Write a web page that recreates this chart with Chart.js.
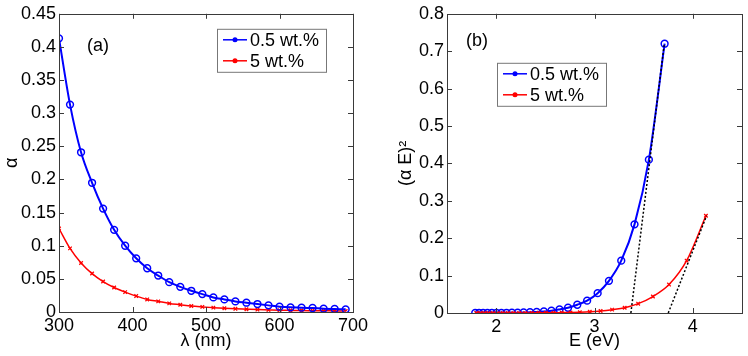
<!DOCTYPE html>
<html>
<head>
<meta charset="utf-8">
<script src="https://cdn.jsdelivr.net/npm/chart.js@4/dist/chart.umd.min.js"></script>
<style>
  body { margin: 0; background: #fff; }
  #wrap { display: flex; width: 748px; height: 356px; }
  canvas { display: block; }
</style>
</head>
<body>
<div id="wrap">
  <canvas id="panelA" width="374" height="356"></canvas>
  <canvas id="panelB" width="374" height="356"></canvas>
</div>
<script>
// ---- data ----
// panel (a): absorption coefficient vs wavelength
var lambdaNm = [300, 315, 330, 345, 360, 375, 390, 405, 420, 435, 450, 465, 480, 495,
                510, 525, 540, 555, 570, 585, 600, 615, 630, 645, 660, 675, 690];
var alphaLow = [0.413, 0.313, 0.241, 0.195, 0.156, 0.124, 0.100, 0.081, 0.066, 0.055, 0.045, 0.038, 0.032, 0.027,
                0.022, 0.019, 0.016, 0.014, 0.012, 0.010, 0.008, 0.007, 0.0066, 0.006, 0.005, 0.0045, 0.004];
var alphaHigh = [0.126, 0.096, 0.074, 0.058, 0.046, 0.037, 0.030, 0.024, 0.019, 0.016, 0.013, 0.011, 0.009, 0.0077,
                 0.0066, 0.0056, 0.0048, 0.0042, 0.0036, 0.0032, 0.0028, 0.0025, 0.0022, 0.0020, 0.0018, 0.0016, 0.0014];

// panel (b): (alpha E)^2 vs photon energy
var energyLow = [3.713, 3.553, 3.407, 3.272, 3.147, 3.032, 2.925, 2.825, 2.731, 2.644, 2.562, 2.485, 2.412,
                 2.344, 2.279, 2.218, 2.160, 2.105, 2.053, 2.003, 1.956, 1.911, 1.867, 1.826, 1.787];
var taucLow = [0.72, 0.41, 0.237, 0.14, 0.086, 0.053, 0.033, 0.022, 0.014, 0.0096, 0.006, 0.004, 0.003,
               0.002, 0.0015, 0.001, 0.0008, 0.0006, 0.0005, 0.0004, 0.0003, 0.0003, 0.0002, 0.0002, 0.0002];
var energyHigh = [4.133, 3.937, 3.758, 3.594, 3.444, 3.307, 3.179, 3.062, 2.952, 2.851, 2.756, 2.667, 2.583, 2.505,
                  2.431, 2.362, 2.296, 2.234, 2.175, 2.120, 2.067, 2.016, 1.968, 1.922, 1.879, 1.837, 1.797];
var taucHigh = [0.26, 0.14, 0.076, 0.044, 0.025, 0.014, 0.009, 0.0055, 0.0033, 0.0021, 0.0014, 0.001, 0.0007, 0.0005,
                0.0004, 0.0003, 0.0002, 0.0002, 0.0001, 0.0001, 0.0001, 0.0001, 0.0001, 0.0, 0.0, 0.0, 0.0];

// dotted tangent lines (band gap extrapolation)
var fitLowE = [3.37, 3.71];
var fitLowY = [0, 0.72];
var fitHighE = [3.75, 4.14];
var fitHighY = [0, 0.26];

// tick labels
var xTicksA = [300, 400, 500, 600, 700];
var yTicksA = [0, 0.05, 0.1, 0.15, 0.2, 0.25, 0.3, 0.35, 0.4, 0.45];
var xTicksB = [2, 3, 4];
var yTicksB = [0, 0.1, 0.2, 0.3, 0.4, 0.5, 0.6, 0.7, 0.8];

var seriesLabels = ['0.5 wt.%', '5 wt.%'];
var BLUE = '#0000ff', RED = '#ff0000';
var FONT = '"Liberation Sans", Arial, sans-serif';

Chart.defaults.font.family = FONT;
Chart.defaults.font.size = 18;
Chart.defaults.color = '#000';

function pts(xs, ys) {
  return xs.map(function(x, i) { return {x: x, y: ys[i]}; });
}

function fixedTicks(list) {
  return function(scale) { scale.ticks = list.map(function(v) { return {value: v}; }); };
}

function fmt(v) { return String(Math.round(v * 1000) / 1000); }

// matlab-like frame: box + inward ticks, panel tag and boxed legend
var matlabFrame = {
  id: 'matlabFrame',
  afterDatasetsDraw: function(chart, args, opts) {
    var ctx = chart.ctx, a = chart.chartArea;
    var xs = chart.scales.x, ys = chart.scales.y;
    ctx.save();
    ctx.strokeStyle = '#3a3a3a';
    ctx.lineWidth = 1;
    ctx.beginPath();
    xs.ticks.forEach(function(t) {
      var px = Math.round(xs.getPixelForValue(t.value)) + 0.5;
      ctx.moveTo(px, a.bottom); ctx.lineTo(px, a.bottom - 5);
      ctx.moveTo(px, a.top); ctx.lineTo(px, a.top + 5);
    });
    ys.ticks.forEach(function(t) {
      var py = Math.round(ys.getPixelForValue(t.value)) + 0.5;
      ctx.moveTo(a.left, py); ctx.lineTo(a.left + 5, py);
      ctx.moveTo(a.right, py); ctx.lineTo(a.right - 5, py);
    });
    ctx.stroke();
    ctx.strokeRect(Math.round(a.left) + 0.5, Math.round(a.top) + 0.5,
                   Math.round(a.right - a.left), Math.round(a.bottom - a.top));

    // panel tag
    ctx.fillStyle = '#000';
    ctx.font = '18px ' + FONT;
    ctx.textBaseline = 'middle';
    ctx.textAlign = 'left';
    ctx.fillText(opts.tag, a.left + opts.tagDx, a.top + opts.tagDy);

    // legend box
    var bx = a.left + opts.legDx, by = a.top + opts.legDy;
    ctx.fillStyle = '#fff';
    ctx.fillRect(bx, by, opts.legW, opts.legH);
    ctx.strokeStyle = '#777';
    ctx.strokeRect(bx + 0.5, by + 0.5, opts.legW, opts.legH);
    var cols = [BLUE, RED];
    seriesLabels.forEach(function(lab, i) {
      var ry = by + 11 + i * 21;
      ctx.strokeStyle = cols[i];
      ctx.lineWidth = 1.5;
      ctx.beginPath();
      ctx.moveTo(bx + 6, ry); ctx.lineTo(bx + 30, ry);
      ctx.stroke();
      ctx.fillStyle = cols[i];
      ctx.beginPath();
      ctx.arc(bx + 18, ry, 2.5, 0, Math.PI * 2);
      ctx.fill();
      ctx.fillStyle = '#000';
      ctx.fillText(lab, bx + 33, ry + 1);
    });
    ctx.restore();
  }
};

function makeOptions(cfg) {
  return {
    responsive: false,
    animation: false,
    events: [],
    layout: { padding: { left: 0, right: cfg.padRight, top: 12, bottom: 0 } },
    plugins: {
      legend: { display: false },
      tooltip: { enabled: false },
      matlabFrame: cfg.frame
    },
    scales: {
      x: {
        type: 'linear',
        min: cfg.xMin, max: cfg.xMax,
        afterBuildTicks: fixedTicks(cfg.xTicks),
        afterFit: function(s) { s.height = 356 - cfg.bottom; },
        grid: { display: false, drawTicks: false },
        border: { display: false },
        ticks: { padding: 3, maxRotation: 0, callback: fmt },
        title: { display: true, text: cfg.xTitle, padding: { top: 0, bottom: 4 } }
      },
      y: {
        type: 'linear',
        min: cfg.yMin, max: cfg.yMax,
        afterBuildTicks: fixedTicks(cfg.yTicks),
        afterFit: function(s) { s.width = cfg.left; },
        grid: { display: false, drawTicks: false },
        border: { display: false },
        ticks: { padding: 3, callback: fmt },
        title: { display: true, text: cfg.yTitle, padding: { top: cfg.yTitlePad, bottom: 0 } }
      }
    }
  };
}

new Chart('panelA', {
  type: 'line',
  data: {
    datasets: [
      {
        label: seriesLabels[0],
        data: pts(lambdaNm, alphaLow),
        borderColor: BLUE, borderWidth: 2,
        pointStyle: 'circle', pointRadius: 3.4, pointBorderWidth: 1.5,
        pointBorderColor: BLUE, pointBackgroundColor: 'rgba(0,0,0,0)',
        cubicInterpolationMode: 'monotone', fill: false
      },
      {
        label: seriesLabels[1],
        data: pts(lambdaNm, alphaHigh),
        borderColor: RED, borderWidth: 1.5,
        pointStyle: 'crossRot', pointRadius: 2.5, pointBorderWidth: 1.3,
        pointBorderColor: RED,
        cubicInterpolationMode: 'monotone', fill: false
      }
    ]
  },
  options: makeOptions({
    padRight: 21, left: 59, bottom: 312,
    xMin: 300, xMax: 700, yMin: 0, yMax: 0.45,
    xTicks: xTicksA, yTicks: yTicksA,
    xTitle: 'λ (nm)', yTitle: 'α', yTitlePad: 1,
    frame: { tag: '(a)', tagDx: 28, tagDy: 32, legDx: 158, legDy: 15, legW: 109, legH: 43 }
  }),
  plugins: [matlabFrame]
});

new Chart('panelB', {
  type: 'line',
  data: {
    datasets: [
      {
        label: 'fit 1',
        data: pts(fitLowE, fitLowY),
        borderColor: '#000', borderWidth: 1.5, borderDash: [2, 2],
        pointRadius: 0, fill: false, order: 0
      },
      {
        label: 'fit 2',
        data: pts(fitHighE, fitHighY),
        borderColor: '#000', borderWidth: 1.5, borderDash: [2, 2],
        pointRadius: 0, fill: false, order: 0
      },
      {
        label: seriesLabels[0],
        data: pts(energyLow, taucLow),
        borderColor: BLUE, borderWidth: 2,
        pointStyle: 'circle', pointRadius: 3.4, pointBorderWidth: 1.5,
        pointBorderColor: BLUE, pointBackgroundColor: 'rgba(0,0,0,0)',
        cubicInterpolationMode: 'monotone', fill: false, order: 2
      },
      {
        label: seriesLabels[1],
        data: pts(energyHigh, taucHigh),
        borderColor: RED, borderWidth: 1.5,
        pointStyle: 'crossRot', pointRadius: 2.5, pointBorderWidth: 1.3,
        pointBorderColor: RED,
        cubicInterpolationMode: 'monotone', fill: false, order: 1
      }
    ]
  },
  options: makeOptions({
    padRight: 6, left: 73, bottom: 313,
    xMin: 1.5, xMax: 4.5, yMin: 0, yMax: 0.8,
    xTicks: xTicksB, yTicks: yTicksB,
    xTitle: 'E (eV)', yTitle: '(α E)²', yTitlePad: 21,
    frame: { tag: '(b)', tagDx: 19, tagDy: 27, legDx: 50, legDy: 49, legW: 109, legH: 43 }
  }),
  plugins: [matlabFrame]
});
</script>
</body>
</html>
